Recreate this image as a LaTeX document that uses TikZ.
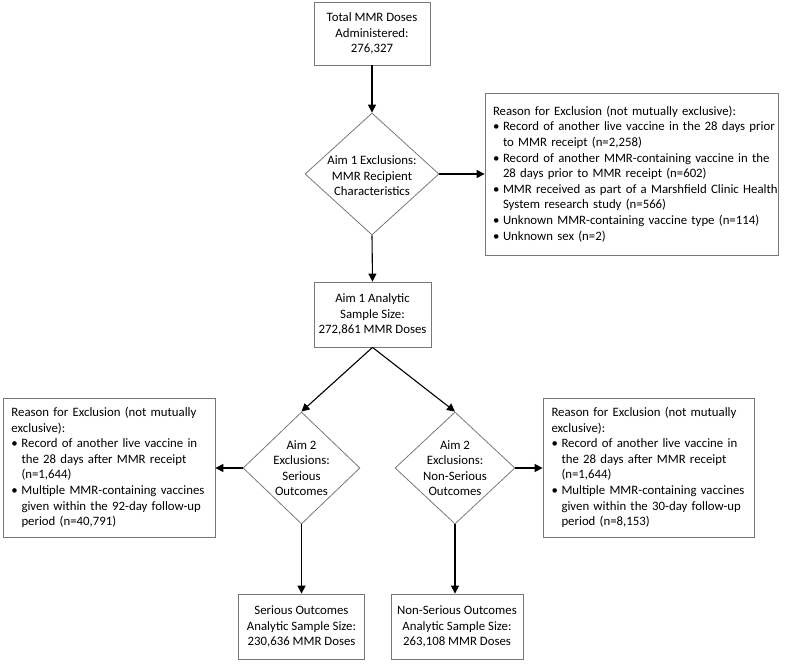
\documentclass[tikz,border=0pt]{standalone}
\usepackage{fontspec}
\setmainfont{Carlito}
\usetikzlibrary{shapes.geometric,arrows.meta}
\definecolor{boxgray}{RGB}{120,120,120}
\tikzset{
  box/.style={draw=boxgray,line width=0.8pt,rectangle,align=center,inner sep=0pt,
     font=\fontsize{12.8}{15.5}\selectfont},
  exbox/.style={draw=boxgray,line width=0.8pt,rectangle,align=left,inner xsep=8pt,inner ysep=0pt,
     font=\fontsize{12.8}{15.6}\selectfont},
  dia/.style={draw=boxgray,line width=0.8pt,shape=diamond,inner sep=0pt},
  dtext/.style={align=center,inner sep=0pt,font=\fontsize{12.8}{15.5}\selectfont},
  arr/.style={line width=1.1pt,-{Triangle[length=8pt,width=8pt]}}
}
\newcommand{\bul}{\makebox[10pt][l]{\textbullet}}
\newcommand{\ind}{\hspace*{10pt}}
\newcommand{\lne}[1]{\mbox{#1}}
\begin{document}
\begin{tikzpicture}[x=1pt,y=-1pt]
\useasboundingbox (0,0) rectangle (787,666);
\node[box,minimum width=116pt,minimum height=63pt] (top) at (372,33.5)
  {Total MMR Doses\\Administered:\\276,327};
\node[dia,minimum width=134pt,minimum height=122pt] (d1) at (372,174) {};
\node[dtext] (d1t) at (372,176) {Aim 1 Exclusions:\\MMR Recipient\\Characteristics};
\node[exbox,text width=277pt,minimum height=162pt] (ex1) at (631.5,174)
  {\lne{Reason for Exclusion (not mutually exclusive):}\\
   \lne{\bul Record of another live vaccine in the 28 days prior}\\
   \lne{\ind to MMR receipt (n=2,258)}\\
   \lne{\bul Record of another MMR-containing vaccine in the}\\
   \lne{\ind 28 days prior to MMR receipt (n=602)}\\
   \lne{\bul MMR received as part of a Marshfield Clinic Health}\\
   \lne{\ind System research study (n=566)}\\
   \lne{\bul Unknown MMR-containing vaccine type (n=114)}\\
   \lne{\bul Unknown sex (n=2)}};
\node[box,minimum width=117pt,minimum height=65pt] (aim1) at (372.5,314.5)
  {Aim 1 Analytic\\Sample Size:\\272,861 MMR Doses};
\node[dia,minimum width=117pt,minimum height=112pt] (d2) at (301.5,468) {};
\node[dtext] (d2t) at (301.5,468) {Aim 2\\Exclusions:\\Serious\\Outcomes};
\node[dia,minimum width=120pt,minimum height=112pt] (d3) at (455,468) {};
\node[dtext] (d3t) at (455,468) {Aim 2\\Exclusions:\\Non-Serious\\Outcomes};
\node[exbox,text width=195pt,minimum height=139pt,inner xsep=8.5pt] (ex2) at (109,467.5)
  {\lne{Reason for Exclusion (not mutually}\\
   \lne{exclusive):}\\
   \lne{\bul Record of another live vaccine in}\\
   \lne{\ind the 28 days after MMR receipt}\\
   \lne{\ind (n=1,644)}\\
   \lne{\bul Multiple MMR-containing vaccines}\\
   \lne{\ind given within the 92-day follow-up}\\
   \lne{\ind period (n=40,791)}};
\node[exbox,text width=194pt,minimum height=139pt,inner xsep=8.5pt] (ex3) at (648.5,467.5)
  {\lne{Reason for Exclusion (not mutually}\\
   \lne{exclusive):}\\
   \lne{\bul Record of another live vaccine in}\\
   \lne{\ind the 28 days after MMR receipt}\\
   \lne{\ind (n=1,644)}\\
   \lne{\bul Multiple MMR-containing vaccines}\\
   \lne{\ind given within the 30-day follow-up}\\
   \lne{\ind period (n=8,153)}};
\node[box,minimum width=126pt,minimum height=65pt] (out1) at (301.5,626.5)
  {Serious Outcomes\\Analytic Sample Size:\\230,636 MMR Doses};
\node[box,minimum width=132pt,minimum height=65pt] (out2) at (457,626.5)
  {Non-Serious Outcomes\\Analytic Sample Size:\\263,108 MMR Doses};
\draw[arr] (top.south) -- (d1.north);
\draw[arr] (d1.east) -- (ex1.west);
\draw[arr] (d1.south) -- (aim1.north);
\draw[arr] (aim1.south) -- (d2.north);
\draw[arr] (aim1.south) -- (d3.north);
\draw[arr] (d2.west) -- (ex2.east |- d2.west);
\draw[arr] (d3.east) -- (ex3.west |- d3.east);
\draw[arr] (d2.south) -- (d2.south |- out1.north);
\draw[arr] (d3.south) -- (d3.south |- out2.north);
\end{tikzpicture}
\end{document}
